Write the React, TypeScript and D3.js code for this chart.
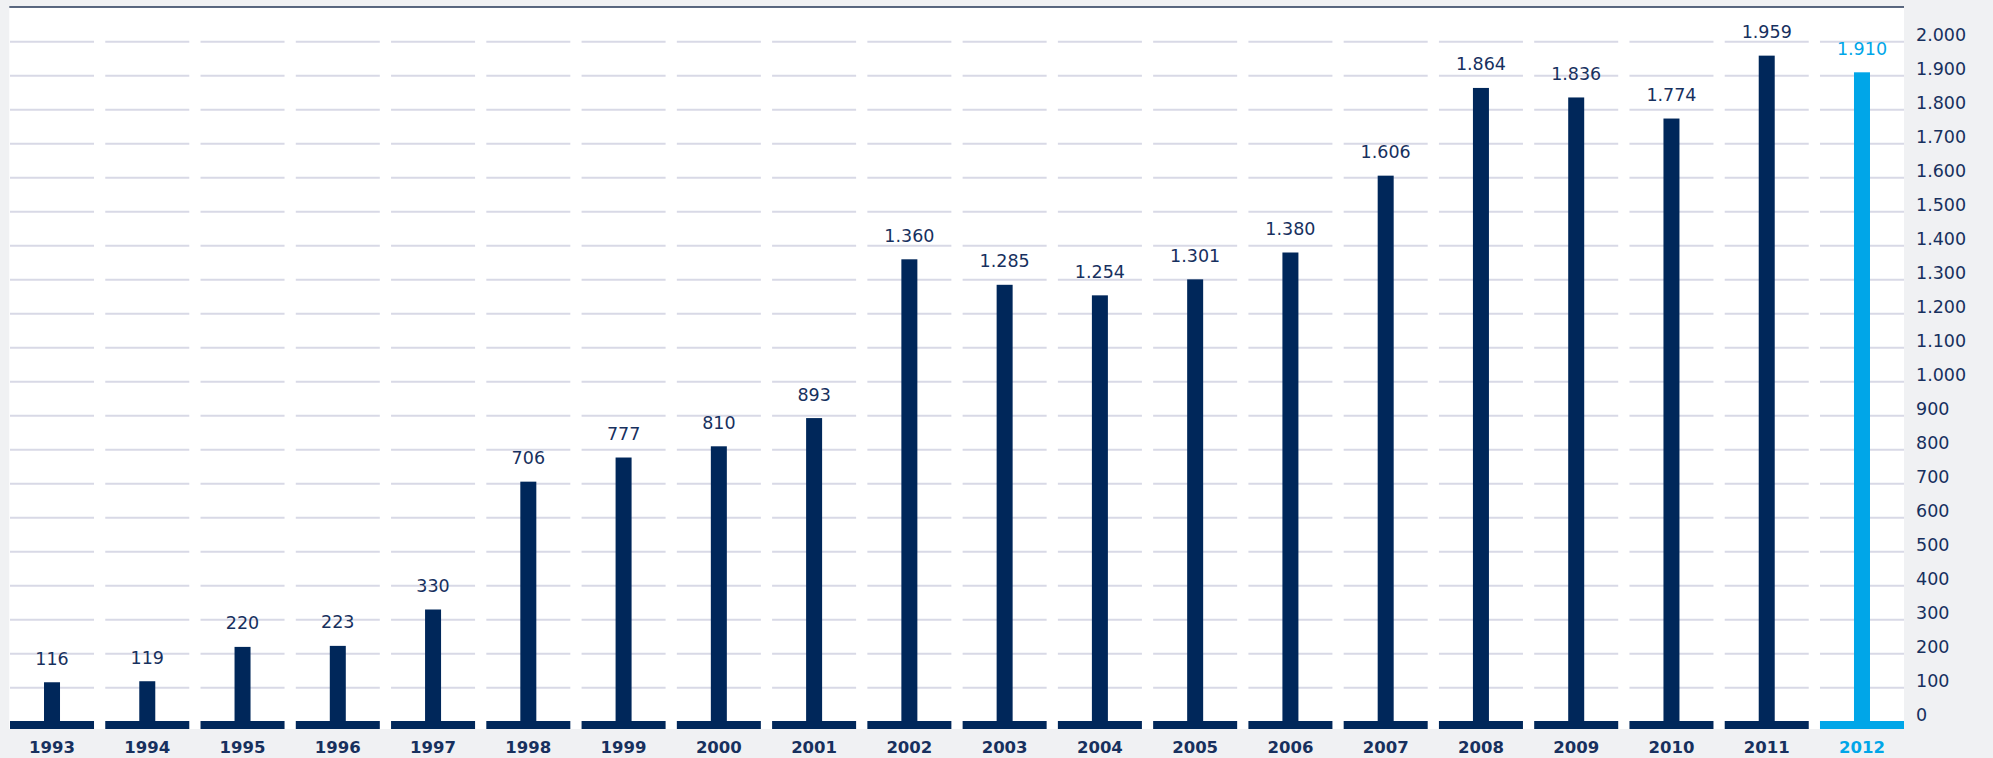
import React from 'react';
import * as d3 from 'd3';

// values
const years = ['1993', '1994', '1995', '1996', '1997', '1998', '1999', '2000', '2001', '2002',
  '2003', '2004', '2005', '2006', '2007', '2008', '2009', '2010', '2011', '2012'];
const values = [116, 119, 220, 223, 330, 706, 777, 810, 893, 1360,
  1285, 1254, 1301, 1380, 1606, 1864, 1836, 1774, 1959, 1910];
const yTicks = [0, 100, 200, 300, 400, 500, 600, 700, 800, 900, 1000,
  1100, 1200, 1300, 1400, 1500, 1600, 1700, 1800, 1900, 2000];
const highlightYear = '2012';

const W = 1993;
const H = 758;
const NAVY = '#00275a';
const BLUE = '#00a6e8';
const TEXT = '#17305e';
const GRID = '#d8d9e6';
const BG = '#f0f1f3';
const FONT = '"DejaVu Sans", sans-serif';

const locale = d3.formatLocale({ decimal: ',', thousands: '.', grouping: [3], currency: ['', ''] });
const fmt = locale.format(',');

export default function App() {
  const plot = { left: 9.3, right: 1904, top: 7, bottom: 729 };

  const x = d3.scaleBand<string>()
    .domain(years)
    .range([10, plot.right])
    .paddingInner(0.118)
    .paddingOuter(0);

  const y = d3.scaleLinear()
    .domain([0, 2000])
    .range([721.7, 41.7]);

  const bw = x.bandwidth();
  const barW = 16;
  const baseH = 8;

  return (
    <svg width={W} height={H} style={{ position: 'absolute', left: 0, top: 0, display: 'block' }}>
      <rect x={0} y={0} width={W} height={H} fill={BG} />
      <rect x={plot.left} y={plot.top} width={plot.right - plot.left} height={plot.bottom - plot.top} fill="#ffffff" />
      <line x1={plot.left} x2={plot.right} y1={plot.top} y2={plot.top} stroke="#243656" strokeWidth={1.4} />

      {/* gridlines, split per category */}
      <g>
        {years.map((yr) => (
          <g key={'g' + yr}>
            {yTicks.filter((t) => t > 0).map((t) => (
              <line key={t} x1={x(yr)} x2={(x(yr) as number) + bw} y1={y(t)} y2={y(t)}
                stroke={GRID} strokeWidth={2} />
            ))}
          </g>
        ))}
      </g>

      {/* bars */}
      <g>
        {years.map((yr, i) => {
          const c = yr === highlightYear ? BLUE : NAVY;
          const cx = (x(yr) as number) + bw / 2;
          return (
            <g key={'b' + yr}>
              <rect x={x(yr)} y={y(0) - 0.7} width={bw} height={baseH} fill={c} />
              <rect x={cx - barW / 2} y={y(values[i])} width={barW} height={y(0) - y(values[i])} fill={c} />
              <text x={cx} y={y(values[i]) - 17.5} textAnchor="middle" fontFamily={FONT} fontSize={17.5}
                fill={yr === highlightYear ? BLUE : TEXT}>{fmt(values[i])}</text>
              <text x={cx} y={753.3} textAnchor="middle" fontFamily={FONT} fontSize={16.5} fontWeight="bold"
                fill={yr === highlightYear ? BLUE : TEXT}>{yr}</text>
            </g>
          );
        })}
      </g>

      {/* y axis labels on the right */}
      <g>
        {yTicks.map((t) => (
          <text key={'t' + t} x={1916} y={y(t) - 0.5} fontFamily={FONT} fontSize={17.5} fill={TEXT}>{fmt(t)}</text>
        ))}
      </g>
    </svg>
  );
}
